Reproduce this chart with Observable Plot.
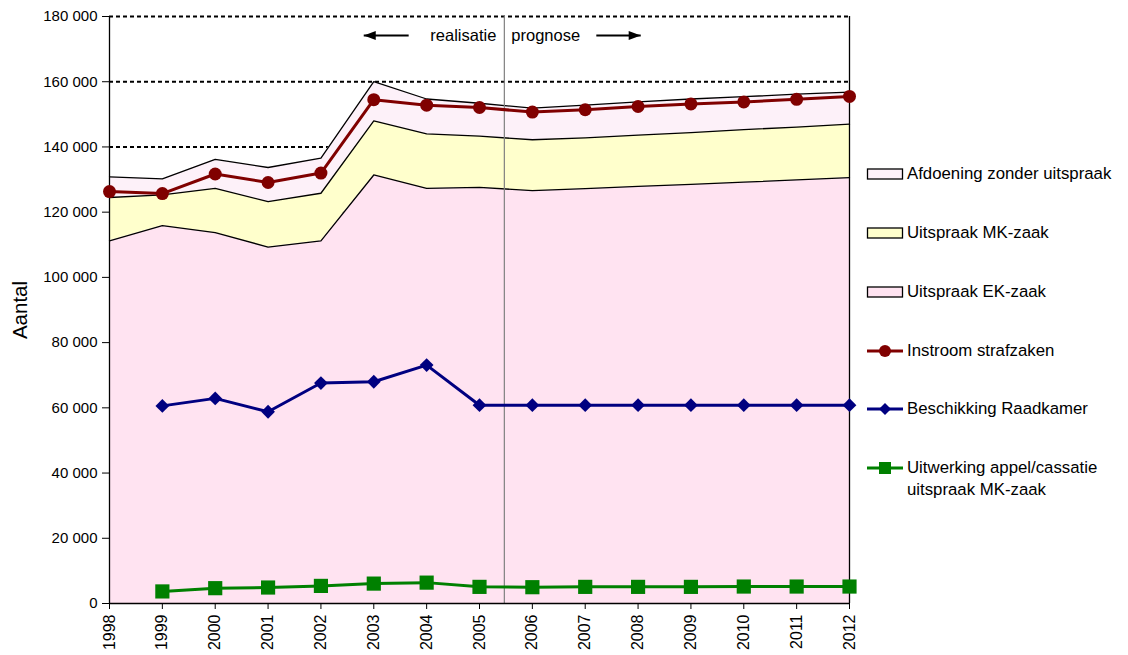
<!DOCTYPE html>
<html>
<head>
<meta charset="utf-8">
<script src="https://cdn.jsdelivr.net/npm/d3@7"></script>
<script src="https://cdn.jsdelivr.net/npm/@observablehq/plot@0.6"></script>
<style>
  html, body { margin: 0; padding: 0; background: #fff; }
  #wrap { position: relative; width: 1128px; height: 655px; font-family: Arial, "Liberation Sans", sans-serif; }
  #legend { position: absolute; left: 866px; top: 0; width: 262px; height: 655px; }
  .row { position: absolute; left: 0; display: flex; align-items: center; font-size: 16.8px; color: #000; line-height: 22px; }
  .row svg { flex: none; margin-right: 3px; }
</style>
</head>
<body>
<div id="wrap"><div id="chart"></div><div id="legend"></div></div>
<script>
// ---- data ----
const years = [1998, 1999, 2000, 2001, 2002, 2003, 2004, 2005, 2006, 2007, 2008, 2009, 2010, 2011, 2012];
// stacked components
const uitspraakEK = [111200, 115900, 113700, 109300, 111200, 131400, 127300, 127600, 126600, 127200, 127900, 128500, 129200, 129900, 130600];
const uitspraakMK = [13300, 9400, 13600, 13900, 14600, 16600, 16700, 15700, 15600, 15600, 15700, 15900, 16100, 16200, 16400];
const afdoeningZonder = [6300, 4900, 8900, 10500, 10800, 12000, 10700, 10100, 9700, 10000, 10200, 10300, 10100, 10100, 9800];
// lines
const instroom = [126300, 125700, 131700, 129100, 132000, 154500, 152800, 152100, 150700, 151400, 152400, 153200, 153800, 154600, 155500];
const lineYears = [1999, 2000, 2001, 2002, 2003, 2004, 2005, 2006, 2007, 2008, 2009, 2010, 2011, 2012];
const raadkamer = [60600, 62900, 58800, 67600, 68000, 73100, 60800, 60800, 60800, 60800, 60800, 60800, 60800, 60800];
const appelCassatie = [3700, 4700, 4900, 5400, 6100, 6400, 5100, 5000, 5100, 5100, 5100, 5200, 5200, 5200];
// axes / annotations
const yTicks = [0, 20000, 40000, 60000, 80000, 100000, 120000, 140000, 160000, 180000];
const gridTicks = [20000, 40000, 60000, 80000, 100000, 120000, 140000, 160000, 180000];
const splitYear = 2005.47;
const annoY = 174200;
const leftArrow = {x1: 2003.66, x2: 2002.81};
const rightArrow = {x1: 2007.21, x2: 2008.05};

const colors = {ek: "#ffe3f1", mk: "#ffffcc", afd: "#fdf1f9", red: "#800000", blue: "#000080", green: "#008000"};

// build stacked rows
const stack = years.map((year, i) => {
  const ek = uitspraakEK[i], mk = ek + uitspraakMK[i], tot = mk + afdoeningZonder[i];
  return {year, ek, mk, tot};
});
const instroomRows = years.map((year, i) => ({year, value: instroom[i]}));
const raadRows = lineYears.map((year, i) => ({year, value: raadkamer[i]}));
const appelRows = lineYears.map((year, i) => ({year, value: appelCassatie[i]}));

const fmt = d => d3.format(",")(d).replace(/,/g, " ");
const arrowHead = {
  draw(ctx) { ctx.moveTo(0, 0); ctx.lineTo(-12, -4.5); ctx.lineTo(-12, 4.5); ctx.closePath(); }
};

const chart = Plot.plot({
  width: 1128,
  height: 655,
  marginLeft: 109,
  marginRight: 279,
  marginTop: 16,
  marginBottom: 52,
  style: {fontFamily: "Arial, 'Liberation Sans', sans-serif", fontSize: "15px", color: "#000", background: "#fff", overflow: "visible"},
  x: {domain: [1998, 2012], label: null},
  y: {domain: [0, 180000], label: null},
  marks: [
    Plot.ruleY(gridTicks, {stroke: "#000", strokeWidth: 2, strokeDasharray: "4,3"}),
    Plot.areaY(stack, {x: "year", y1: 0, y2: "ek", fill: colors.ek}),
    Plot.areaY(stack, {x: "year", y1: "ek", y2: "mk", fill: colors.mk}),
    Plot.areaY(stack, {x: "year", y1: "mk", y2: "tot", fill: colors.afd}),
    Plot.lineY(stack, {x: "year", y: "ek", stroke: "#000", strokeWidth: 1.3}),
    Plot.lineY(stack, {x: "year", y: "mk", stroke: "#000", strokeWidth: 1.3}),
    Plot.lineY(stack, {x: "year", y: "tot", stroke: "#000", strokeWidth: 1.3}),
    Plot.ruleX([splitYear], {stroke: "#808080", strokeWidth: 1.2}),
    Plot.ruleX([1998, 2012], {stroke: "#000", strokeWidth: 1.3}),
    Plot.ruleY([0], {stroke: "#000", strokeWidth: 1.3}),
    // annotations
    Plot.text(["realisatie"], {x: splitYear, y: annoY, text: d => d, textAnchor: "end", dx: -8, fontSize: 16.5}),
    Plot.text(["prognose"], {x: splitYear, y: annoY, text: d => d, textAnchor: "start", dx: 7, fontSize: 16.5}),
    Plot.link([leftArrow, rightArrow], {x1: "x1", x2: "x2", y1: annoY, y2: annoY, stroke: "#000", strokeWidth: 2}),
    Plot.dot([leftArrow], {x: "x2", y: annoY, symbol: arrowHead, rotate: 180, fill: "#000", stroke: "none"}),
    Plot.dot([rightArrow], {x: "x2", y: annoY, symbol: arrowHead, rotate: 0, fill: "#000", stroke: "none"}),
    // series lines
    Plot.lineY(appelRows, {x: "year", y: "value", stroke: colors.green, strokeWidth: 3}),
    Plot.dot(appelRows, {x: "year", y: "value", symbol: "square", r: 8, fill: colors.green, stroke: "none"}),
    Plot.lineY(raadRows, {x: "year", y: "value", stroke: colors.blue, strokeWidth: 3}),
    Plot.dot(raadRows, {x: "year", y: "value", symbol: "diamond2", r: 6.2, fill: colors.blue, stroke: "none"}),
    Plot.lineY(instroomRows, {x: "year", y: "value", stroke: colors.red, strokeWidth: 3}),
    Plot.dot(instroomRows, {x: "year", y: "value", r: 6.5, fill: colors.red, stroke: "none"}),
    // axes
    Plot.axisY({ticks: yTicks, tickFormat: fmt, tickSize: 7, tickPadding: 5, fontSize: 15, label: null}),
    Plot.axisX({ticks: years, tickFormat: d => String(d), tickRotate: -90, tickSize: 6, tickPadding: 5, fontSize: 16, label: null}),
    Plot.text(["Aantal"], {frameAnchor: "left", dx: -89, text: d => d, rotate: -90, fontSize: 20.5, textAnchor: "middle"})
  ]
});
document.getElementById("chart").appendChild(chart);

// ---- legend ----
const legendItems = [
  {label: "Afdoening zonder uitspraak", type: "box", fill: colors.afd, top: 174},
  {label: "Uitspraak MK-zaak", type: "box", fill: colors.mk, top: 233},
  {label: "Uitspraak EK-zaak", type: "box", fill: colors.ek, top: 292},
  {label: "Instroom strafzaken", type: "circle", color: colors.red, top: 351},
  {label: "Beschikking Raadkamer", type: "diamond", color: colors.blue, top: 409},
  {label: "Uitwerking appel/cassatie<br>uitspraak MK-zaak", type: "square", color: colors.green, top: 479}
];
const legend = document.getElementById("legend");
for (const it of legendItems) {
  const row = document.createElement("div");
  row.className = "row";
  let sw;
  if (it.type === "box") {
    sw = `<svg width="38" height="14"><rect x="1.5" y="2" width="35" height="10" fill="${it.fill}" stroke="#000" stroke-width="1.3"/></svg>`;
  } else {
    let mk = "";
    if (it.type === "circle") mk = `<circle cx="19" cy="7" r="6" fill="${it.color}"/>`;
    if (it.type === "diamond") mk = `<path d="M19 1L25 7L19 13L13 7Z" fill="${it.color}"/>`;
    if (it.type === "square") mk = `<rect x="13" y="1" width="12" height="12" fill="${it.color}"/>`;
    sw = `<svg width="38" height="14"><line x1="1" y1="7" x2="37" y2="7" stroke="${it.color}" stroke-width="3"/>${mk}</svg>`;
  }
  const twoLine = it.label.includes("<br>");
  row.innerHTML = sw + `<span>${it.label}</span>`;
  if (twoLine) {
    row.style.alignItems = "flex-start";
    row.querySelector("svg").style.marginTop = "4px";
    row.style.top = (it.top - 22) + "px";
  } else {
    row.style.top = (it.top - 11) + "px";
  }
  legend.appendChild(row);
}
</script>
</body>
</html>
